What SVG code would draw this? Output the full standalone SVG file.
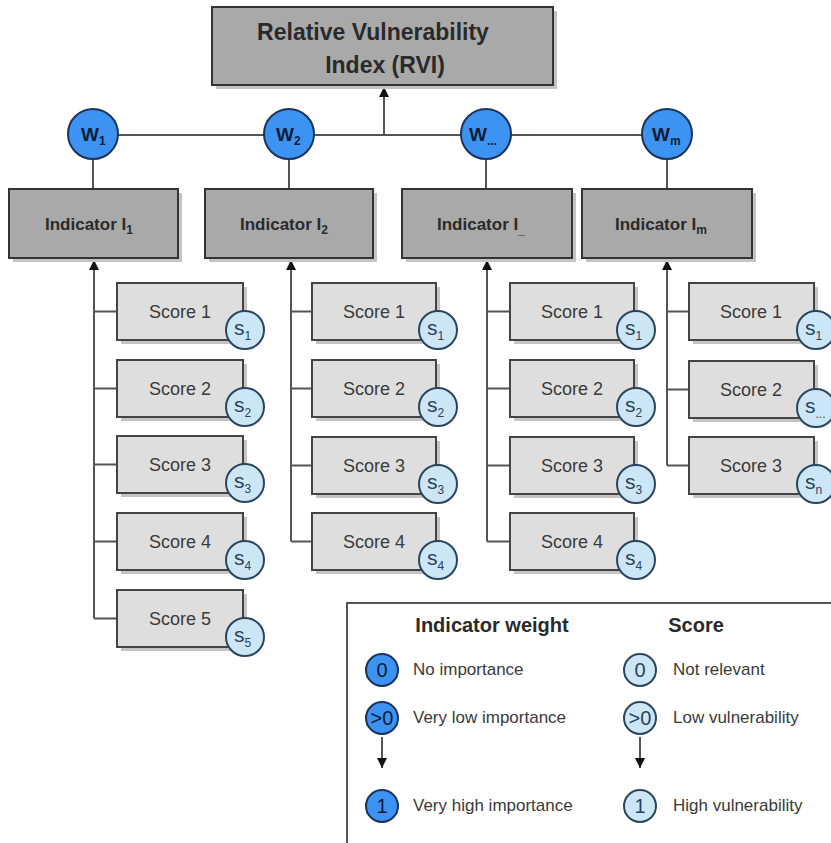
<svg xmlns="http://www.w3.org/2000/svg" width="831" height="843" viewBox="0 0 831 843">
<defs>
<style>
.bx{fill:#a9a9a9;stroke:#333;stroke-width:2}
.sb{fill:#dedede;stroke:#444;stroke-width:2}
.sh{fill:#c4c4c4}
.wc{fill:#3c93f2;stroke:#1b3458;stroke-width:2}
.sc{fill:#cde6f6;stroke:#2a4560;stroke-width:2}
.ln{stroke:#555;stroke-width:2;fill:none}
.t1{font-family:"Liberation Sans",Arial,sans-serif;font-weight:bold;fill:#2a2a2a}
.t2{font-family:"Liberation Sans",Arial,sans-serif;fill:#3a3a3a}
.tw{font-family:"Liberation Sans",Arial,sans-serif;font-weight:bold;fill:#0f1d38;font-size:19px}
.ts{font-family:"Liberation Sans",Arial,sans-serif;fill:#2a4360;font-size:21px}
.ln2{font-family:"Liberation Sans",Arial,sans-serif;font-size:20px;text-anchor:middle}
.sub{font-size:12px}
</style>
<marker id="ah" viewBox="0 0 10 10" refX="10" refY="5" markerWidth="5" markerHeight="5" orient="auto"><path d="M0,0 L10,5 L0,10 z" fill="#111"/></marker>
</defs>
<rect width="831" height="843" fill="#fff"/>

<g id="connectors">
<line class="ln" x1="93" y1="135" x2="667" y2="135"/>
<line class="ln" x1="384" y1="135" x2="384" y2="87" marker-end="url(#ah)"/>
<line class="ln" x1="93" y1="135" x2="93" y2="189"/>
<line class="ln" x1="289" y1="135" x2="289" y2="189"/>
<line class="ln" x1="486" y1="135" x2="486" y2="189"/>
<line class="ln" x1="667" y1="135" x2="667" y2="189"/>
<path class="ln" d="M94,618.5 V260"/>
<path class="ln" d="M94,311.5 H117 M94,388.5 H117 M94,464.5 H117 M94,541.5 H117 M94,618.5 H117"/>
<line class="ln" x1="94" y1="300" x2="94" y2="260" marker-end="url(#ah)"/>
<path class="ln" d="M291,541.5 V260"/>
<path class="ln" d="M291,311.5 H312 M291,388.5 H312 M291,465.5 H312 M291,541.5 H312"/>
<line class="ln" x1="291" y1="300" x2="291" y2="260" marker-end="url(#ah)"/>
<path class="ln" d="M487,541.5 V260"/>
<path class="ln" d="M487,311.5 H510 M487,388.5 H510 M487,465.5 H510 M487,541.5 H510"/>
<line class="ln" x1="487" y1="300" x2="487" y2="260" marker-end="url(#ah)"/>
<path class="ln" d="M667,465.5 V260"/>
<path class="ln" d="M667,311.5 H689 M667,389.5 H689 M667,465.5 H689"/>
<line class="ln" x1="667" y1="300" x2="667" y2="260" marker-end="url(#ah)"/>
</g>

<g id="rvi">
<rect class="sh" x="216" y="11" width="341" height="78"/>
<rect class="bx" x="212" y="7" width="341" height="78"/>
<text class="t1" x="373" y="40" font-size="23" text-anchor="middle">Relative Vulnerability</text>
<text class="t1" x="385" y="73" font-size="23" text-anchor="middle">Index (RVI)</text>
</g>

<g id="w1"><circle class="wc" cx="93" cy="134" r="25"/><text class="tw" x="81" y="141">W<tspan class="sub" dy="4">1</tspan></text></g>
<g id="w2"><circle class="wc" cx="289" cy="134" r="25"/><text class="tw" x="276" y="141">W<tspan class="sub" dy="4">2</tspan></text></g>
<g id="w3"><circle class="wc" cx="486" cy="134" r="25"/><text class="tw" x="469" y="141">W<tspan class="sub" dy="4">...</tspan></text></g>
<g id="wm"><circle class="wc" cx="667" cy="134" r="25"/><text class="tw" x="652" y="141">W<tspan class="sub" dy="4">m</tspan></text></g>

<g id="ind1"><rect class="sh" x="13" y="193" width="169" height="69"/><rect class="bx" x="9" y="189" width="169" height="69"/><text class="t1" x="45" y="230" font-size="17">Indicator I<tspan class="sub" dy="4">1</tspan></text></g>
<g id="ind2"><rect class="sh" x="209" y="193" width="168" height="69"/><rect class="bx" x="205" y="189" width="168" height="69"/><text class="t1" x="240" y="230" font-size="17">Indicator I<tspan class="sub" dy="4">2</tspan></text></g>
<g id="ind3"><rect class="sh" x="406" y="193" width="170" height="69"/><rect class="bx" x="402" y="189" width="170" height="69"/><text class="t1" x="437" y="230" font-size="17">Indicator I<tspan class="sub" dy="4">_</tspan></text></g>
<g id="ind4"><rect class="sh" x="586" y="193" width="170" height="69"/><rect class="bx" x="582" y="189" width="170" height="69"/><text class="t1" x="615" y="230" font-size="17">Indicator I<tspan class="sub" dy="4">m</tspan></text></g>

<g id="c1s1"><rect class="sh" x="121" y="287" width="126" height="57"/><rect class="sb" x="117" y="283" width="126" height="57"/><text class="t2" x="180" y="318" font-size="18" text-anchor="middle">Score 1</text><circle class="sc" cx="245" cy="330" r="19"/><text class="ts" x="234" y="335">s<tspan class="sub" dy="5">1</tspan></text></g>
<g id="c1s2"><rect class="sh" x="121" y="364" width="126" height="57"/><rect class="sb" x="117" y="360" width="126" height="57"/><text class="t2" x="180" y="395" font-size="18" text-anchor="middle">Score 2</text><circle class="sc" cx="245" cy="407" r="19"/><text class="ts" x="234" y="412">s<tspan class="sub" dy="5">2</tspan></text></g>
<g id="c1s3"><rect class="sh" x="121" y="440" width="126" height="57"/><rect class="sb" x="117" y="436" width="126" height="57"/><text class="t2" x="180" y="471" font-size="18" text-anchor="middle">Score 3</text><circle class="sc" cx="245" cy="483" r="19"/><text class="ts" x="234" y="488">s<tspan class="sub" dy="5">3</tspan></text></g>
<g id="c1s4"><rect class="sh" x="121" y="517" width="126" height="57"/><rect class="sb" x="117" y="513" width="126" height="57"/><text class="t2" x="180" y="548" font-size="18" text-anchor="middle">Score 4</text><circle class="sc" cx="245" cy="560" r="19"/><text class="ts" x="234" y="565">s<tspan class="sub" dy="5">4</tspan></text></g>
<g id="c1s5"><rect class="sh" x="121" y="594" width="126" height="57"/><rect class="sb" x="117" y="590" width="126" height="57"/><text class="t2" x="180" y="625" font-size="18" text-anchor="middle">Score 5</text><circle class="sc" cx="245" cy="637" r="19"/><text class="ts" x="234" y="642">s<tspan class="sub" dy="5">5</tspan></text></g>

<g id="c2s1"><rect class="sh" x="316" y="287" width="124" height="57"/><rect class="sb" x="312" y="283" width="124" height="57"/><text class="t2" x="374" y="318" font-size="18" text-anchor="middle">Score 1</text><circle class="sc" cx="438" cy="330" r="19"/><text class="ts" x="427" y="335">s<tspan class="sub" dy="5">1</tspan></text></g>
<g id="c2s2"><rect class="sh" x="316" y="364" width="124" height="57"/><rect class="sb" x="312" y="360" width="124" height="57"/><text class="t2" x="374" y="395" font-size="18" text-anchor="middle">Score 2</text><circle class="sc" cx="438" cy="407" r="19"/><text class="ts" x="427" y="412">s<tspan class="sub" dy="5">2</tspan></text></g>
<g id="c2s3"><rect class="sh" x="316" y="441" width="124" height="57"/><rect class="sb" x="312" y="437" width="124" height="57"/><text class="t2" x="374" y="472" font-size="18" text-anchor="middle">Score 3</text><circle class="sc" cx="438" cy="484" r="19"/><text class="ts" x="427" y="489">s<tspan class="sub" dy="5">3</tspan></text></g>
<g id="c2s4"><rect class="sh" x="316" y="517" width="124" height="57"/><rect class="sb" x="312" y="513" width="124" height="57"/><text class="t2" x="374" y="548" font-size="18" text-anchor="middle">Score 4</text><circle class="sc" cx="438" cy="560" r="19"/><text class="ts" x="427" y="565">s<tspan class="sub" dy="5">4</tspan></text></g>

<g id="c3s1"><rect class="sh" x="514" y="287" width="124" height="57"/><rect class="sb" x="510" y="283" width="124" height="57"/><text class="t2" x="572" y="318" font-size="18" text-anchor="middle">Score 1</text><circle class="sc" cx="636" cy="330" r="19"/><text class="ts" x="625" y="335">s<tspan class="sub" dy="5">1</tspan></text></g>
<g id="c3s2"><rect class="sh" x="514" y="364" width="124" height="57"/><rect class="sb" x="510" y="360" width="124" height="57"/><text class="t2" x="572" y="395" font-size="18" text-anchor="middle">Score 2</text><circle class="sc" cx="636" cy="407" r="19"/><text class="ts" x="625" y="412">s<tspan class="sub" dy="5">2</tspan></text></g>
<g id="c3s3"><rect class="sh" x="514" y="441" width="124" height="57"/><rect class="sb" x="510" y="437" width="124" height="57"/><text class="t2" x="572" y="472" font-size="18" text-anchor="middle">Score 3</text><circle class="sc" cx="636" cy="484" r="19"/><text class="ts" x="625" y="489">s<tspan class="sub" dy="5">3</tspan></text></g>
<g id="c3s4"><rect class="sh" x="514" y="517" width="124" height="57"/><rect class="sb" x="510" y="513" width="124" height="57"/><text class="t2" x="572" y="548" font-size="18" text-anchor="middle">Score 4</text><circle class="sc" cx="636" cy="560" r="19"/><text class="ts" x="625" y="565">s<tspan class="sub" dy="5">4</tspan></text></g>

<g id="c4s1"><rect class="sh" x="693" y="287" width="125" height="57"/><rect class="sb" x="689" y="283" width="125" height="57"/><text class="t2" x="751" y="318" font-size="18" text-anchor="middle">Score 1</text><circle class="sc" cx="816" cy="330" r="19"/><text class="ts" x="805" y="335">s<tspan class="sub" dy="5">1</tspan></text></g>
<g id="c4s2"><rect class="sh" x="693" y="365" width="125" height="57"/><rect class="sb" x="689" y="361" width="125" height="57"/><text class="t2" x="751" y="396" font-size="18" text-anchor="middle">Score 2</text><circle class="sc" cx="816" cy="408" r="19"/><text class="ts" x="805" y="413">s<tspan class="sub" dy="5">...</tspan></text></g>
<g id="c4s3"><rect class="sh" x="693" y="441" width="125" height="57"/><rect class="sb" x="689" y="437" width="125" height="57"/><text class="t2" x="751" y="472" font-size="18" text-anchor="middle">Score 3</text><circle class="sc" cx="816" cy="484" r="19"/><text class="ts" x="805" y="489">s<tspan class="sub" dy="5">n</tspan></text></g>

<g id="legend">
<rect x="347" y="603" width="520" height="280" fill="#fff" stroke="#555" stroke-width="2"/>
<text class="t1" x="492" y="632" font-size="20" text-anchor="middle">Indicator weight</text>
<text class="t1" x="696" y="632" font-size="20" text-anchor="middle">Score</text>
<circle class="wc" cx="382" cy="670" r="16"/><text class="ln2" x="382" y="677" fill="#0f1d38">0</text>
<circle class="wc" cx="382" cy="718" r="16"/><text class="ln2" x="382" y="725" fill="#0f1d38">&gt;0</text>
<circle class="wc" cx="382" cy="806" r="16"/><text class="ln2" x="382" y="813" fill="#0f1d38">1</text>
<line class="ln" x1="382" y1="737" x2="382" y2="768" marker-end="url(#ah)" stroke-width="1.5"/>
<text class="t2" x="413" y="675" font-size="17">No importance</text>
<text class="t2" x="413" y="723" font-size="17">Very low importance</text>
<text class="t2" x="413" y="811" font-size="17">Very high importance</text>
<circle class="sc" cx="640" cy="670" r="16"/><text class="ln2" x="640" y="677" fill="#2a4360">0</text>
<circle class="sc" cx="640" cy="718" r="16"/><text class="ln2" x="640" y="725" fill="#2a4360">&gt;0</text>
<circle class="sc" cx="640" cy="806" r="16"/><text class="ln2" x="640" y="813" fill="#2a4360">1</text>
<line class="ln" x1="640" y1="737" x2="640" y2="768" marker-end="url(#ah)" stroke-width="1.5"/>
<text class="t2" x="673" y="675" font-size="17">Not relevant</text>
<text class="t2" x="673" y="723" font-size="17">Low vulnerability</text>
<text class="t2" x="673" y="811" font-size="17">High vulnerability</text>
</g>
</svg>
